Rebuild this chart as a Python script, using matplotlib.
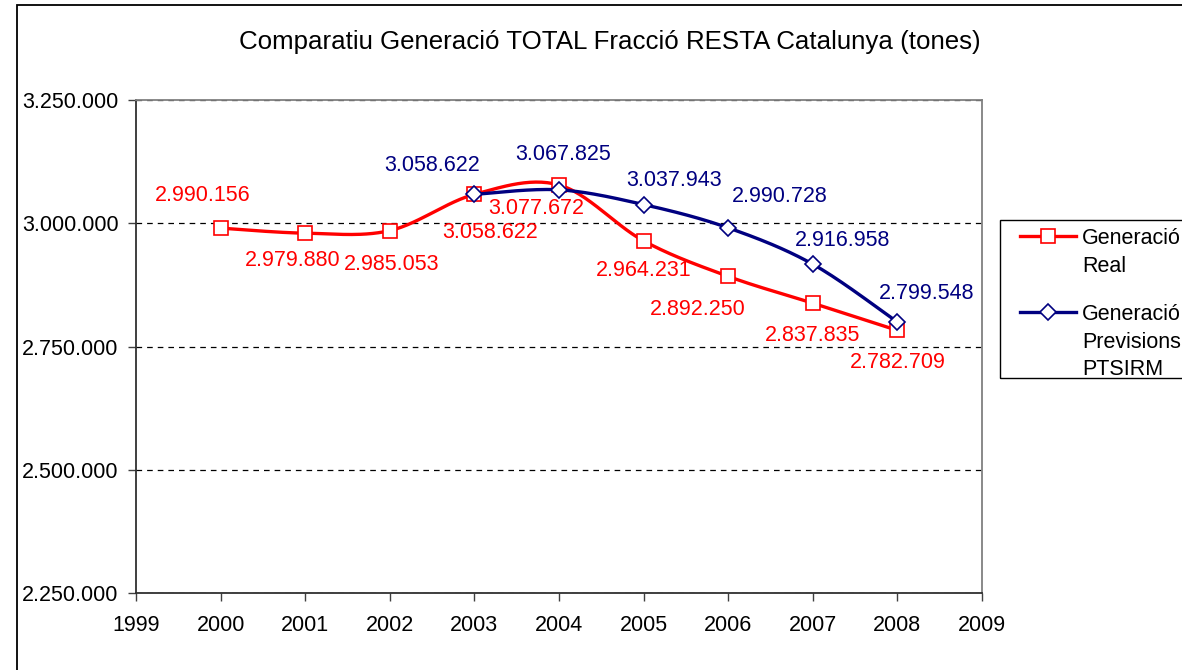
import numpy as np
import matplotlib.pyplot as plt
from matplotlib.lines import Line2D
from matplotlib.patches import Rectangle
from matplotlib.ticker import FuncFormatter, MultipleLocator

plt.rcParams['font.family'] = ['Liberation Sans', 'DejaVu Sans']

years_real = [2000, 2001, 2002, 2003, 2004, 2005, 2006, 2007, 2008]
real = [2990156, 2979880, 2985053, 3058622, 3077672, 2964231, 2892250, 2837835, 2782709]

years_prev = [2003, 2004, 2005, 2006, 2007, 2008]
prev = [3058622, 3067825, 3037943, 2990728, 2916958, 2799548]

# label offsets in pixels (dx, dy), one per point
real_offsets = [(-18, 33), (-13, -27), (2, -34), (16, -38), (-23, -24),
                (0, -30), (-30, -33), (0, -32), (0, -32)]
prev_offsets = [(-42, 29), (4, 35), (30, 24), (52, 31), (30, 24), (29, 29)]

RED = '#FF0000'
BLUE = '#000080'
W, H = 1182, 670
FS = 15.5


def fmt_thousands(v, pos=None):
    return f"{int(round(v)):,}".replace(',', '.')


def smooth(xs, ys, n=30):
    # Catmull-Rom curve through the points (Excel-style smoothed line)
    p = np.column_stack([xs, ys]).astype(float)
    p = np.vstack([p[0], p, p[-1]])
    out = []
    t = np.linspace(0, 1, n)[:, None]
    for i in range(1, len(p) - 2):
        p0, p1, p2, p3 = p[i - 1], p[i], p[i + 1], p[i + 2]
        c1 = p1 + (p2 - p0) / 6
        c2 = p2 - (p3 - p1) / 6
        seg = ((1 - t) ** 3 * p1 + 3 * (1 - t) ** 2 * t * c1
               + 3 * (1 - t) * t ** 2 * c2 + t ** 3 * p2)
        out.append(seg if i == 1 else seg[1:])
    out = np.vstack(out)
    return out[:, 0], out[:, 1]


def fig_xy(x, y):
    return x / W, 1 - y / H


fig = plt.figure(figsize=(W / 100, H / 100), dpi=100)
ax = fig.add_axes([136 / W, 1 - 593 / H, (982 - 136) / W, (593 - 100) / H])

sx, sy = smooth(years_real, real)
ax.plot(sx, sy, color=RED, lw=2.4, zorder=3, solid_capstyle='round')
ax.plot(years_real, real, ls='none', marker='s', ms=10, mfc='white',
        mec=RED, mew=1.2, zorder=4)

sx, sy = smooth(years_prev, prev)
ax.plot(sx, sy, color=BLUE, lw=2.4, zorder=5, solid_capstyle='round')
ax.plot(years_prev, prev, ls='none', marker='D', ms=8.5, mfc='white',
        mec=BLUE, mew=1.2, zorder=6)

for x, v, (dx, dy) in zip(years_real, real, real_offsets):
    ax.annotate(fmt_thousands(v), (x, v), xytext=(dx, dy),
                textcoords='offset pixels', ha='center', va='center',
                color=RED, fontsize=FS, zorder=7)
for x, v, (dx, dy) in zip(years_prev, prev, prev_offsets):
    ax.annotate(fmt_thousands(v), (x, v), xytext=(dx, dy),
                textcoords='offset pixels', ha='center', va='center',
                color=BLUE, fontsize=FS, zorder=7)

ax.set_xlim(1999, 2009)
ax.set_ylim(2250000, 3250000)
ax.xaxis.set_major_locator(MultipleLocator(1))
ax.yaxis.set_major_locator(MultipleLocator(250000))
ax.yaxis.set_major_formatter(FuncFormatter(fmt_thousands))
ax.xaxis.set_major_formatter(FuncFormatter(lambda v, p: f"{int(v)}"))
ax.tick_params(axis='both', direction='out', length=6, width=1,
               color='#404040', labelsize=FS)
ax.tick_params(axis='x', pad=10)
ax.tick_params(axis='y', pad=6.5)

ax.grid(axis='y', color='black', ls=(0, (4.5, 4)), lw=0.9)
ax.set_axisbelow(True)

for side in ('left', 'bottom'):
    ax.spines[side].set_color('#303030')
    ax.spines[side].set_linewidth(1.3)
for side in ('top', 'right'):
    ax.spines[side].set_color('#808080')
    ax.spines[side].set_linewidth(1.3)

fig.text(*fig_xy(610, 42),
         'Comparatiu Generació TOTAL Fracció RESTA Catalunya (tones)',
         ha='center', va='center', fontsize=18.6)

# chart area border (continues past the right and bottom edges)
x0, y0 = fig_xy(17, 5)
fig.add_artist(Rectangle((x0, -0.1), 1.2, y0 + 0.1, transform=fig.transFigure,
                         fill=False, ec='black', lw=1.3))

# legend box
lx, ly = fig_xy(1000, 378)
fig.add_artist(Rectangle((lx, ly), 0.3, (378 - 220) / H, transform=fig.transFigure,
                         fill=False, ec='black', lw=1.0))
for yy, col, mk, ms, label in [(236, RED, 's', 10, 'Generació\nReal'),
                               (312, BLUE, 'D', 8.5, 'Generació\nPrevisions\nPTSIRM')]:
    xa, ya = fig_xy(1020, yy)
    xb, _ = fig_xy(1076, yy)
    xm, _ = fig_xy(1048, yy)
    fig.add_artist(Line2D([xa, xb], [ya, ya], color=col, lw=2.4,
                          transform=fig.transFigure))
    fig.add_artist(Line2D([xm], [ya], ls='none', marker=mk, ms=ms, mfc='white',
                          mec=col, mew=1.2, transform=fig.transFigure))
    tx, ty = fig_xy(1082, yy - 8)
    fig.text(tx, ty, label, ha='left', va='top', fontsize=FS, linespacing=1.42)

fig.savefig('out.png', dpi=100)
